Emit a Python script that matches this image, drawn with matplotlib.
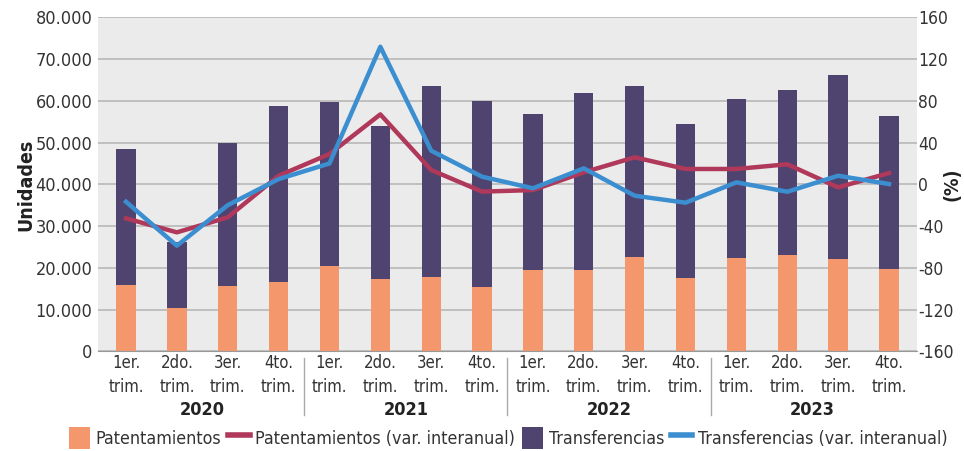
import matplotlib
matplotlib.use('Agg')
from matplotlib import pyplot as plt
from matplotlib.patches import Patch
from matplotlib.lines import Line2D
import numpy as np

years = ['2020', '2021', '2022', '2023']
quarters = ['1er.\ntrim.', '2do.\ntrim.', '3er.\ntrim.', '4to.\ntrim.']

patentamientos = [16.0, 10.3, 15.6, 16.7, 20.5, 17.3, 17.8, 15.3,
                  19.4, 19.4, 22.6, 17.6, 22.3, 23.0, 22.1, 19.8]
transferencias = [32.4, 15.8, 34.4, 42.1, 39.2, 36.7, 45.8, 44.7,
                  37.4, 42.4, 41.0, 36.8, 38.1, 39.5, 44.2, 36.6]
pat_var = [-32.6, -46.0, -31.6, 8.2, 29.0, 67.0, 13.7, -7.0,
           -5.5, 11.5, 25.9, 14.7, 14.7, 19.2, -2.9, 10.8]
transf_var = [-16.7, -58.8, -20.0, 5.0, 20.0, 131.8, 32.2, 7.3,
              -3.8, 15.3, -10.9, -17.6, 1.9, -7.1, 8.2, 0.3]

c_pat = '#f4976c'
c_transf = '#4f446f'
c_pat_var = '#b0385a'
c_transf_var = '#3b8ed0'
txt = '#333333'

pat = np.array(patentamientos) * 1000
tra = np.array(transferencias) * 1000
x = np.arange(len(pat))

plt.rcParams['font.family'] = ['DejaVu Sans']
plt.rcParams['font.stretch'] = 'condensed'

fig = plt.figure(figsize=[9.64, 4.51], dpi=100)
ax = fig.add_axes([0.1017, 0.221, 0.8495, 0.7406])
ax.set_facecolor('#ebebeb')

ax.bar(x, pat, width=0.38, color=c_pat, zorder=2)
ax.bar(x, tra, width=0.38, bottom=pat, color=c_transf, zorder=2)

ax.set_ylim(0, 80000)
ax.set_yticks(np.arange(0, 80001, 10000))
ax.set_yticklabels([f'{int(v):,}'.replace(',', '.') for v in np.arange(0, 80001, 10000)],
                   fontsize=13, color=txt)
ax.yaxis.grid(True, color='#b8b8b8', linewidth=1.2, zorder=1)
ax.set_axisbelow(True)
ax.set_xlim(-0.55, len(x) - 0.45)
ax.set_xticks(x)
ax.set_xticklabels(quarters * 4, fontsize=12, color=txt, linespacing=1.4)
ax.tick_params(axis='both', length=0, pad=4)
ax.tick_params(axis='x', pad=2)
for s in ['top', 'right', 'left']:
    ax.spines[s].set_visible(False)
ax.spines['bottom'].set_color('#999999')
ax.set_ylabel('Unidades', fontsize=14, fontweight='bold', color='#222222')
ax.yaxis.label.set_verticalalignment('center')
ax.yaxis.set_label_coords(-0.088, 0.5)

ax2 = ax.twinx()
ax2.plot(x, pat_var, color=c_pat_var, linewidth=3.2, zorder=3)
ax2.plot(x, transf_var, color=c_transf_var, linewidth=3.2, zorder=3)
ax2.set_ylim(-160, 160)
ax2.set_yticks(np.arange(-160, 161, 40))
ax2.set_yticklabels([str(v) for v in np.arange(-160, 161, 40)],
                    fontsize=12.5, color=txt)
ax2.tick_params(axis='y', length=0, pad=1)
for s in ['top', 'right', 'left', 'bottom']:
    ax2.spines[s].set_visible(False)
ax2.set_ylabel('(%)', fontsize=14, fontweight='bold', color='#222222')
ax2.yaxis.label.set_verticalalignment('center')
ax2.yaxis.set_label_coords(1.043, 0.5)

# year labels and separators
trans = ax.get_xaxis_transform()
for i, yr in enumerate(years):
    ax.text(i * 4 + 1.5, -0.175, yr, transform=trans, ha='center', va='center',
            fontsize=13, fontweight='bold', color='#222222')
    if i > 0:
        ax.plot([i * 4 - 0.5] * 2, [-0.02, -0.19], transform=trans,
                color='#aaaaaa', linewidth=1, clip_on=False)

handles = [
    Patch(facecolor=c_pat, label='Patentamientos'),
    Line2D([], [], color=c_pat_var, linewidth=4, label='Patentamientos (var. interanual)'),
    Patch(facecolor=c_transf, label='Transferencias'),
    Line2D([], [], color=c_transf_var, linewidth=4, label='Transferencias (var. interanual)'),
]
fig.legend(handles=handles, loc='lower center', bbox_to_anchor=(0.527, -0.03), ncol=4,
           frameon=False, fontsize=12.8, handlelength=1.2, handleheight=1.5,
           handletextpad=0.3, columnspacing=0.4, labelcolor=txt)

plt.savefig('out.png', dpi=100)
